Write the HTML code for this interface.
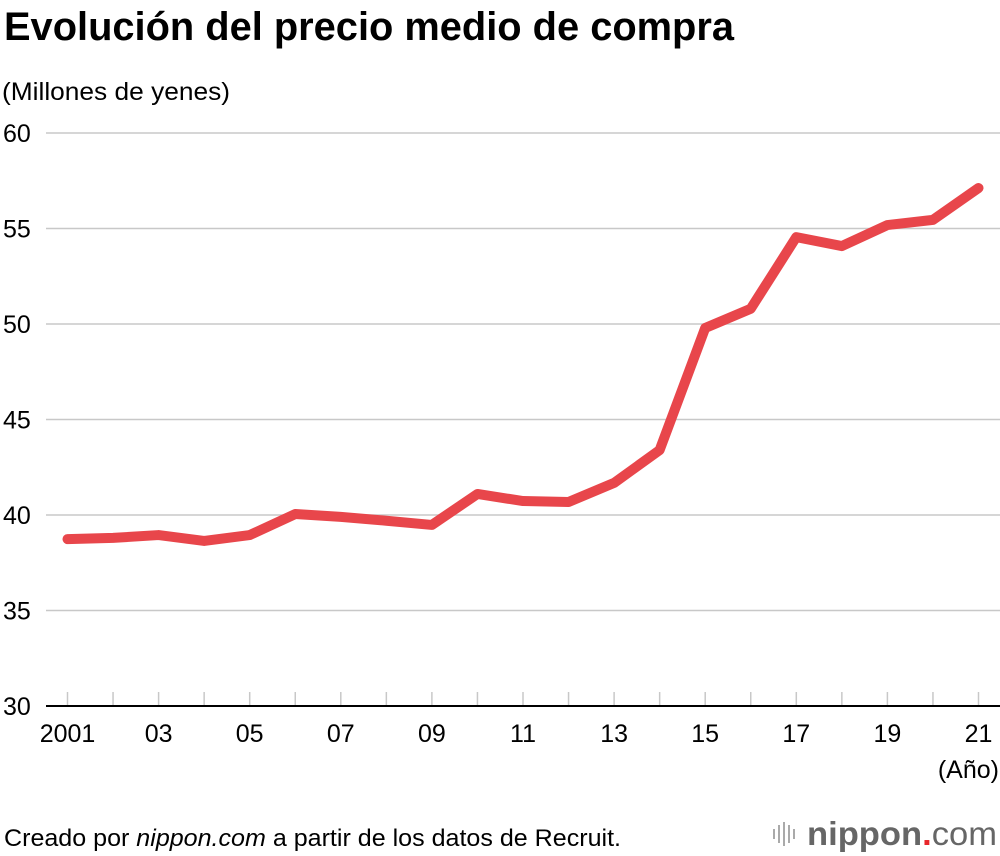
<!DOCTYPE html>
<html><head><meta charset="utf-8"><style>
body{margin:0;background:#fff;font-family:"Liberation Sans",Arial,sans-serif}
svg{display:block}
</style></head><body>
<svg id="chart" width="1000" height="856" xmlns="http://www.w3.org/2000/svg">
<text x="4" y="40" font-size="39.5" font-weight="bold" fill="#000" textLength="730" lengthAdjust="spacingAndGlyphs">Evolución del precio medio de compra</text>
<text x="2" y="100" font-size="25" fill="#000" textLength="228" lengthAdjust="spacingAndGlyphs">(Millones de yenes)</text>
<g id="grid"></g>
<g id="xaxis"></g>
<path id="line" fill="none" stroke="#e8464b" stroke-width="10" stroke-linejoin="round" stroke-linecap="round"></path>
<text x="999" y="778" font-size="25" text-anchor="end" fill="#000">(Año)</text>
<text x="4" y="846" font-size="24" fill="#000" textLength="617" lengthAdjust="spacingAndGlyphs">Creado por <tspan font-style="italic">nippon.com</tspan> a partir de los datos de Recruit.</text>
<g>
<g stroke="#aaa" stroke-width="2"><line x1="774" y1="829" x2="774" y2="839"/><line x1="779" y1="825" x2="779" y2="843"/><line x1="784" y1="822" x2="784" y2="846"/><line x1="789" y1="825" x2="789" y2="843"/><line x1="794" y1="829" x2="794" y2="839"/></g>
<text x="807" y="845" font-size="33" fill="#666" textLength="190" lengthAdjust="spacingAndGlyphs"><tspan font-weight="bold">nippon</tspan><tspan fill="#e8262b" font-weight="bold">.</tspan><tspan>com</tspan></text>
</g>
</svg>
<script>
const years=[2001,2002,2003,2004,2005,2006,2007,2008,2009,2010,2011,2012,2013,2014,2015,2016,2017,2018,2019,2020,2021];
const prices=[38.74,38.8,38.95,38.64,38.95,40.05,39.9,39.7,39.48,41.1,40.73,40.68,41.68,43.4,49.79,50.8,54.55,54.08,55.18,55.45,57.12];
const yTicks=[30,35,40,45,50,55,60];
const xLabels=["2001","03","05","07","09","11","13","15","17","19","21"];
const NS="http://www.w3.org/2000/svg";
const X=y=>67.5+(y-2001)*45.55;
const Y=v=>706-(v-30)*19.1;
const grid=document.getElementById('grid'),xa=document.getElementById('xaxis');
function mk(tag,attrs,parent){const e=document.createElementNS(NS,tag);for(const k in attrs)e.setAttribute(k,attrs[k]);parent.appendChild(e);return e;}
yTicks.forEach(t=>{
  if(t>30){const l=mk('line',{x1:46,x2:1000,y1:Y(t),y2:Y(t),stroke:'#c8c8c8','stroke-width':1.5},grid);
  
  }
  const tx=mk('text',{x:3,y:Y(t)+9,'font-size':25,fill:'#000'},grid);tx.textContent=t;
  
  
});
years.forEach(y=>{const l=mk('line',{x1:X(y),x2:X(y),y1:692,y2:705,stroke:'#c8c8c8','stroke-width':1.5},xa);
  
  });
const ax=mk('line',{x1:46,x2:1000,y1:706,y2:706,stroke:'#000','stroke-width':2},xa);


xLabels.forEach((s,i)=>{const yr=2001+i*2;const t=mk('text',{x:X(yr),y:742,'font-size':25,'text-anchor':'middle',fill:'#000'},xa);t.textContent=s;
  
  });
document.getElementById('line').setAttribute('d',years.map((y,i)=>(i?'L':'M')+X(y)+' '+Y(prices[i])).join(' '));
</script>
</body></html>
